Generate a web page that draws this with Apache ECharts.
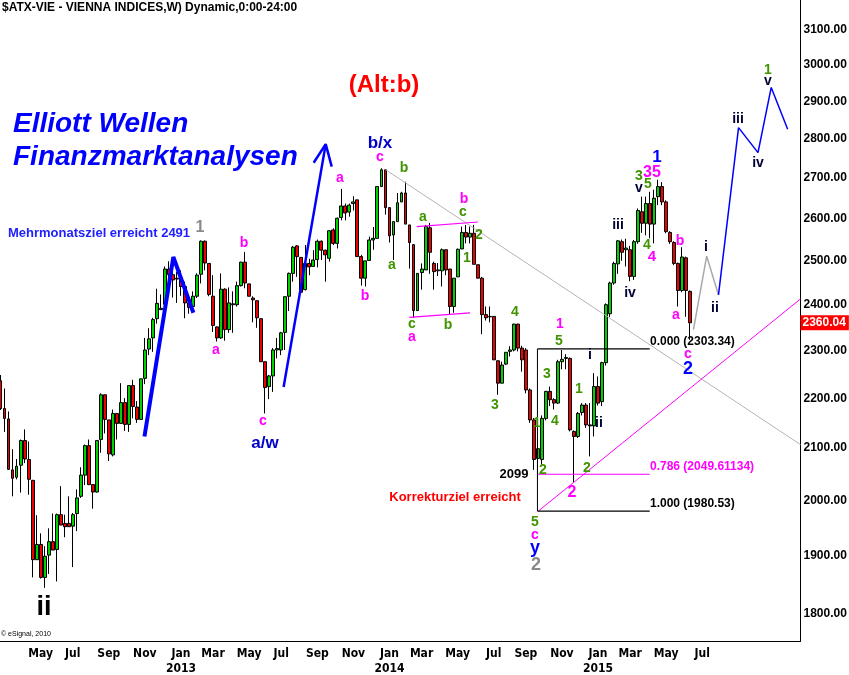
<!DOCTYPE html>
<html><head><meta charset="utf-8">
<script src="https://cdn.jsdelivr.net/npm/echarts@6/dist/echarts.min.js"></script>
<style>html,body{margin:0;padding:0;background:#fff}#c{width:849px;height:675px}</style>
</head><body><div id="c"></div>
<script>
// ---------- DATA ----------
const firstWeek = [2012, 1, 27];   // Monday 27 Feb 2012 (weekly bars)
const weekCount = 200;
const monthNames = ['Jan','Feb','Mar','Apr','May','Jun','Jul','Aug','Sep','Oct','Nov','Dec'];
const labelWeekRange = [5, 178];   // weeks that carry month labels

const open = [2236,2179,2158,2058,2044,2067,2115,2078,2038,1893,
1920,1862,1901,1925,1911,1974,1958,1958,1953,1976,
2008,2048,2105,2030,2016,2117,2207,2156,2087,2169,
2149,2191,2147,2226,2182,2157,2241,2303,2327,2369,
2389,2401,2481,2468,2460,2458,2441,2404,2396,2419,
2469,2546,2494,2419,2351,2327,2435,2345,2402,2400,
2443,2497,2447,2415,2409,2369,2276,2224,2246,2301,
2301,2339,2419,2471,2535,2508,2434,2494,2487,2503,
2546,2525,2506,2573,2541,2603,2631,2616,2637,2646,
2510,2460,2501,2549,2553,2679,2721,2627,2561,2593,
2641,2663,2585,2538,2387,2473,2479,2578,2494,2477,
2477,2526,2481,2396,2463,2528,2567,2556,2565,2491,
2460,2378,2373,2374,2278,2231,2271,2298,2301,2357,
2305,2301,2217,2156,2080,2078,2159,2214,2197,2190,
2276,2283,2283,2133,2123,2171,2186,2146,2144,2224,
2193,2274,2380,2449,2493,2545,2526,2526,2464,2545,
2617,2589,2637,2587,2654,2679,2641,2567,2543,2494,
2432,2507,2430];

const close = [2179,2159,2059,2042,2065,2115,2079,2040,1893,1920,
1862,1899,1925,1910,1974,1955,1952,1952,1974,2005,
2048,2105,2030,2016,2115,2207,2157,2089,2169,2149,
2191,2147,2226,2183,2157,2240,2301,2325,2367,2403,
2392,2481,2468,2456,2458,2441,2404,2394,2419,2467,
2546,2495,2423,2354,2327,2435,2345,2404,2400,2443,
2497,2449,2419,2411,2371,2276,2222,2246,2301,2304,
2338,2418,2471,2532,2510,2428,2494,2486,2502,2546,
2525,2514,2571,2541,2601,2631,2614,2633,2641,2510,
2460,2500,2549,2553,2679,2721,2627,2559,2593,2639,
2663,2587,2543,2387,2471,2481,2581,2520,2475,2479,
2526,2479,2396,2460,2527,2567,2556,2565,2492,2460,
2378,2371,2374,2280,2231,2269,2296,2301,2357,2305,
2280,2217,2156,2078,2099,2159,2214,2197,2190,2276,
2281,2285,2136,2123,2169,2186,2146,2144,2224,2190,
2274,2400,2449,2494,2547,2520,2530,2464,2545,2620,
2589,2637,2587,2650,2679,2641,2569,2545,2494,2432,
2509,2432,2360.04];

const low = [2176,2132,2058,2008,2040,2015,2071,2011,1862,1893,
1860,1844,1868,1910,1855,1955,1933,1952,1880,1944,
2005,2029,2029,1985,2015,2091,2129,2075,2084,2117,
2149,2134,2132,2159,2150,2156,2229,2290,2297,2358,
2389,2393,2444,2416,2404,2420,2370,2380,2386,2415,
2448,2478,2419,2340,2319,2325,2321,2338,2338,2396,
2441,2437,2419,2361,2349,2276,2169,2198,2213,2283,
2290,2301,2386,2452,2463,2428,2432,2467,2486,2485,
2502,2452,2498,2537,2529,2596,2596,2605,2620,2510,
2443,2441,2500,2526,2553,2679,2610,2543,2502,2593,
2641,2587,2482,2371,2387,2434,2479,2470,2434,2465,
2441,2467,2378,2382,2463,2527,2541,2541,2492,2460,
2335,2365,2361,2280,2207,2231,2269,2287,2298,2298,
2255,2210,2150,2058,2040,2068,2155,2184,2177,2188,
2260,2260,2133,2035,2120,2165,2140,2084,2123,2185,
2184,2268,2373,2445,2470,2500,2487,2453,2456,2540,
2566,2560,2553,2541,2633,2633,2565,2540,2490,2396,
2428,2373,2323];

const high = [2248,2220,2173,2098,2079,2117,2137,2113,2039,1973,
1940,1917,1949,1976,1976,2027,1974,2008,1977,2021,
2063,2107,2117,2030,2115,2210,2207,2156,2177,2169,
2231,2200,2226,2238,2194,2240,2327,2348,2371,2436,
2423,2487,2499,2483,2475,2478,2452,2415,2430,2471,
2548,2548,2494,2467,2352,2471,2437,2439,2430,2452,
2498,2521,2447,2419,2409,2369,2276,2248,2305,2327,
2340,2419,2473,2535,2537,2508,2537,2505,2525,2550,
2548,2526,2573,2577,2603,2673,2637,2637,2655,2646,
2514,2500,2557,2580,2679,2725,2721,2627,2593,2663,
2666,2691,2585,2538,2471,2494,2585,2590,2498,2495,
2529,2526,2481,2460,2529,2581,2585,2581,2585,2491,
2463,2396,2396,2374,2278,2276,2296,2309,2358,2358,
2310,2305,2220,2160,2120,2165,2215,2224,2200,2280,
2301,2292,2285,2135,2172,2190,2190,2190,2252,2245,
2276,2403,2452,2498,2549,2550,2552,2535,2549,2625,
2654,2654,2666,2671,2696,2690,2645,2570,2546,2496,
2532,2510,2432];

const yTicks = [1800,1900,2000,2100,2200,2300,2400,2500,2600,2700,2800,2900,3000,3100];
const lastPrice = 2360.04;

// drawn overlays in data coordinates: [week index, price]
const waveLineA   = [[35.9,2123],[43.1,2509],[48.1,2382]];
const arrowB      = [[70.6,2223],[81.1,2787]];
const arrowHeadB  = [[78.1,2739],[81.1,2787],[82.6,2729]];
const projBlue    = [[179.05,2422],[184.05,2830],[188.9,2765],[192.2,2938],[196.3,2826]];
const projGrey    = [[172.8,2345],[176.1,2511],[179.05,2422]];
const trendGrey   = [[96.1,2721],[199.5,2107]];
const trendPink   = [[134.1,1980.53],[199.5,2413]];
const fibLevels   = [2303.34, 2049.61134, 1980.53];
const fibSpan     = [133.9, 161.9];
const triUpper    = [[103.8,2581],[119.05,2592]];
const triLower    = [[101.95,2372],[117.1,2382]];

// ---------- BUILD ----------
const weeks = [];
const t0 = Date.UTC(firstWeek[0], firstWeek[1], firstWeek[2]);
for (let k = 0; k < weekCount; k++) {
  weeks.push(new Date(t0 + k * 7 * 86400000).toISOString().slice(0, 10));
}
const candles = open.map((o, i) => [o, close[i], low[i], high[i]]);

const FONT = '"Liberation Sans", Arial, sans-serif';
const M = '#ff00ff', G = '#3f9400', K = '#000033', B = '#0000ff', GR = '#8a8a8a';

function seg(data, color, width) {
  return {type: 'line', xAxisIndex: 1, yAxisIndex: 0, data: data, symbol: 'none',
    silent: true, animation: false, z: 4, clip: false,
    lineStyle: {color: color, width: width}};
}

const series = [
  {type: 'candlestick', xAxisIndex: 0, yAxisIndex: 0, data: candles, barWidth: 3.4, z: 2,
   itemStyle: {color: '#00d200', color0: '#ee0000', borderColor: '#000', borderColor0: '#000', borderWidth: 1},
   markLine: {silent: true, animation: false, symbol: ['none', 'none'],
     lineStyle: {color: 'rgba(0,0,0,0)', width: 0},
     label: {show: true, position: 'end', distance: 3, color: '#000', fontWeight: 'bold',
       fontSize: 12, fontFamily: FONT, formatter: p => Number(p.value).toFixed(2)},
     data: yTicks.map(v => ({yAxis: v})).concat([{yAxis: lastPrice,
       label: {backgroundColor: '#ff0000', color: '#fff', padding: [2, 3, 1, 2], distance: 0,
         formatter: () => lastPrice.toFixed(2)}}])}
  },
  seg(waveLineA, '#0000ff', 4),
  seg(arrowB, '#0000ff', 2.5),
  seg(arrowHeadB, '#0000ff', 2.5),
  seg(projGrey, '#a8a8a8', 1.5),
  seg(projBlue, '#0000ff', 1.5),
  seg(trendGrey, '#b4b4b4', 1),
  seg(trendPink, '#ff00ff', 1),
  seg(triUpper, '#ff00ff', 1.2),
  seg(triLower, '#ff00ff', 1.2),
  seg([[fibSpan[0], fibLevels[0]], [fibSpan[1], fibLevels[0]]], '#000', 1.2),
  seg([[fibSpan[0], fibLevels[1]], [fibSpan[1], fibLevels[1]]], '#ff00ff', 1.2),
  seg([[fibSpan[0], fibLevels[2]], [fibSpan[1], fibLevels[2]]], '#000', 1.2),
  seg([[fibSpan[0], fibLevels[2]], [fibSpan[0], fibLevels[0]]], '#000', 1)
];

// text annotations [text, x, y, color, size, align, style]
const notes = [
  ['$ATX-VIE - VIENNA INDICES,W) Dynamic,0:00-24:00', 2, 8, '#000', 12, 'left'],
  ['(Alt:b)', 384, 85, '#ff0000', 24, 'center'],
  ['Elliott Wellen', 13, 124, '#0000ff', 28, 'left', 'italic'],
  ['Finanzmarktanalysen', 13, 157, '#0000ff', 28, 'left', 'italic'],
  ['Mehrmonatsziel erreicht 2491', 8, 233, '#2020ff', 13, 'left'],
  ['2099', 514, 474, '#000', 13, 'center'],
  ['Korrekturziel erreicht', 455, 497, '#ff0000', 13, 'center'],
  ['0.000 (2303.34)', 650, 342, '#000', 12, 'left'],
  ['0.786 (2049.61134)', 650, 467, '#ff00ff', 12, 'left'],
  ['1.000 (1980.53)', 650, 504, '#000', 12, 'left'],
  ['1', 200, 228, GR, 16], ['a', 340, 178, M, 14], ['b', 244, 243, M, 14],
  ['a', 216, 350, M, 14], ['c', 263, 421, M, 14], ['a/w', 265, 443, '#0000cc', 17],
  ['ii', 44, 608, '#000', 27], ['b/x', 380, 143, '#0000cc', 17], ['c', 380, 157, M, 14],
  ['b', 404, 168, G, 14], ['a', 392, 265, G, 14], ['b', 365, 296, M, 14],
  ['a', 423, 217, G, 14], ['b', 464, 199, M, 14], ['c', 463, 212, G, 14],
  ['2', 479, 235, G, 14], ['1', 467, 258, G, 14], ['c', 412, 324, G, 14],
  ['a', 412, 337, M, 14], ['b', 448, 325, G, 14], ['4', 515, 312, G, 14],
  ['3', 495, 405, G, 14], ['1', 560, 324, M, 14], ['5', 559, 341, G, 14],
  ['3', 547, 374, G, 14], ['4', 555, 421, G, 14], ['1', 537, 423, G, 14],
  ['2', 543, 470, G, 14], ['1', 579, 389, G, 14], ['2', 587, 468, G, 14],
  ['2', 572, 493, M, 16], ['ii', 599, 423, K, 14], ['i', 590, 355, K, 14],
  ['5', 535, 522, G, 14], ['c', 535, 535, M, 14], ['y', 535, 548, B, 18],
  ['2', 536, 565, GR, 18], ['a', 676, 315, M, 14], ['c', 688, 354, M, 14],
  ['2', 688, 369, B, 18], ['iii', 618, 225, K, 14], ['iv', 630, 293, K, 14],
  ['3', 639, 176, G, 14], ['v', 639, 188, K, 14], ['5', 648, 184, G, 14],
  ['35', 652, 173, M, 16], ['1', 657, 157, B, 17], ['4', 647, 245, G, 14],
  ['4', 652, 257, M, 15], ['b', 680, 241, M, 14], ['i', 706, 247, K, 14],
  ['ii', 715, 308, K, 14], ['iii', 738, 119, K, 14], ['iv', 758, 163, K, 14],
  ['1', 768, 70, G, 14], ['v', 768, 81, K, 14]
];

const graphic = notes.map(n => ({
  type: 'text', x: n[1], y: n[2], z: 100, silent: true,
  style: {text: n[0], fill: n[3], align: n[5] || 'center', verticalAlign: 'middle',
    font: (n[6] ? n[6] + ' ' : '') + 'bold ' + n[4] + 'px ' + FONT}
}));
graphic.push({type: 'text', x: 1, y: 634, z: 100, silent: true,
  style: {text: '\u00a9 eSignal, 2010', fill: '#000', align: 'left', verticalAlign: 'middle',
    font: '7px ' + FONT}});

const chart = echarts.init(document.getElementById('c'), null, {renderer: 'canvas'});
chart.setOption({
  animation: false,
  backgroundColor: '#ffffff',
  grid: {left: -1.5, right: 48.5, top: 0, bottom: 34, containLabel: false, outerBoundsMode: 'none'},
  xAxis: [
    {type: 'category', data: weeks, boundaryGap: true, gridIndex: 0,
     axisLine: {show: true, lineStyle: {color: '#000', width: 1}},
     axisTick: {show: false}, splitLine: {show: false},
     axisLabel: {
       interval: (idx, val) => {
         if (idx < labelWeekRange[0] || idx > labelWeekRange[1]) return false;
         const d = +val.slice(8, 10), m = +val.slice(5, 7);
         return d <= 7 && m % 2 === 1;
       },
       formatter: (val) => { const m = +val.slice(5, 7); const s = monthNames[m - 1]; return m === 1 ? s + '\n' + val.slice(0, 4) : s; },
       color: '#000', fontWeight: 'bold', fontSize: 12, lineHeight: 15, margin: 5,
       fontFamily: '"Liberation Sans Narrow", "DejaVu Sans Condensed", sans-serif'}
    },
    {type: 'value', min: -0.5, max: 199.5, show: false, gridIndex: 0}
  ],
  yAxis: [{type: 'log', logBase: 10, min: 1755, max: 3187, position: 'right', scale: true,
    axisLine: {show: true, onZero: false, lineStyle: {color: '#000', width: 1}},
    axisTick: {show: false}, axisLabel: {show: false}, splitLine: {show: false}, minorTick: {show: false}}],
  series: series,
  graphic: graphic
});
</script>
</body></html>
